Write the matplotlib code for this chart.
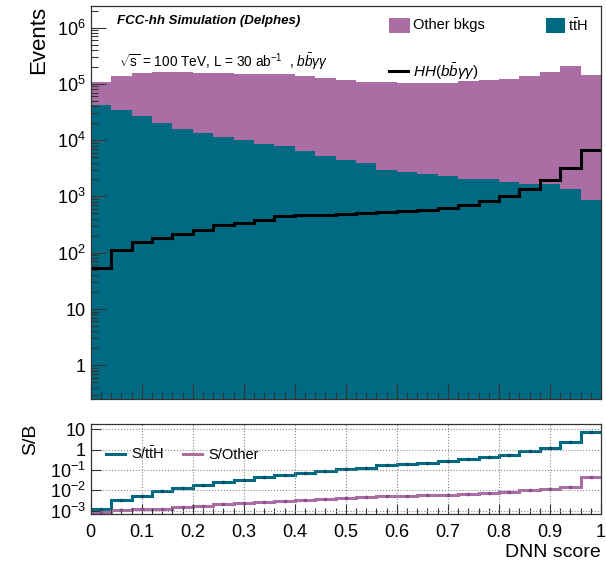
"""
DNN score distribution with S/B ratio panel
"""

import numpy as np
import matplotlib as mpl
mpl.use('Agg')
import matplotlib.pyplot as plt
from matplotlib.patches import Rectangle
from matplotlib.lines import Line2D
from matplotlib.ticker import LogLocator, NullFormatter, MultipleLocator

COLORS = {
    'other': '#AA6EA5',
    'tth':   '#006A82',
    'hh':    '#000000',
}

mpl.rcParams.update({
    'font.family':        ['Liberation Sans', 'DejaVu Sans'],
    'mathtext.fontset':   'custom',
    'mathtext.rm':        'Liberation Sans',
    'mathtext.it':        'Liberation Sans:italic',
    'mathtext.bf':        'Liberation Sans:bold',
    'axes.linewidth':     0.9,
    'axes.edgecolor':     '#333333',
    'xtick.direction':    'in',
    'ytick.direction':    'in',
})

# binning: 25 bins on [0, 1]
bin_edges = np.linspace(0, 1, 26)

# events per bin
tth_events = [4.26e4, 3.5e4, 2.72e4, 2.0e4, 1.58e4, 1.32e4, 1.12e4, 1.0e4, 8.7e3,
              7.8e3, 6.5e3, 5.2e3, 4.4e3, 3.9e3, 2.9e3, 2.7e3, 2.48e3, 2.34e3,
              2.0e3, 2.0e3, 1.82e3, 1.68e3, 1.64e3, 1.38e3, 880]
other_events = [6.44e4, 1.03e5, 1.29e5, 1.43e5, 1.44e5, 1.45e5, 1.45e5, 1.42e5, 1.40e5,
                1.42e5, 1.30e5, 1.23e5, 1.14e5, 1.06e5, 1.04e5, 1.00e5, 1.01e5, 1.03e5,
                1.11e5, 1.14e5, 1.18e5, 1.34e5, 1.58e5, 2.09e5, 1.43e5]
hh_events = [54, 113, 152, 181, 219, 257, 305, 336, 388,
             445, 466, 470, 485, 515, 537, 550, 575, 630,
             705, 830, 1020, 1380, 1950, 3200, 6700]

top_yticks = [1, 10, 1e2, 1e3, 1e4, 1e5, 1e6]
top_yticklabels = ['1', '10', r'$10^{2}$', r'$10^{3}$', r'$10^{4}$', r'$10^{5}$', r'$10^{6}$']
ratio_yticks = [1e-3, 1e-2, 1e-1, 1, 10]
ratio_yticklabels = [r'$10^{-3}$', r'$10^{-2}$', r'$10^{-1}$', '1', '10']
xticks = [0, 0.1, 0.2, 0.3, 0.4, 0.5, 0.6, 0.7, 0.8, 0.9, 1.0]
xticklabels = ['0', '0.1', '0.2', '0.3', '0.4', '0.5', '0.6', '0.7', '0.8', '0.9', '1']


def style_log_axis(ax, major_len, minor_len):
    ax.yaxis.set_minor_locator(LogLocator(base=10, subs=np.arange(2, 10)))
    ax.yaxis.set_minor_formatter(NullFormatter())
    ax.xaxis.set_minor_locator(MultipleLocator(0.02))
    ax.tick_params(which='major', length=major_len, width=0.8, color='#333333')
    ax.tick_params(which='minor', length=minor_len, width=0.8, color='#333333')


def main():
    tth = np.array(tth_events)
    other = np.array(other_events)
    hh = np.array(hh_events)
    centers = 0.5 * (bin_edges[1:] + bin_edges[:-1])

    fig = plt.figure(figsize=(6.06, 5.63), dpi=100)
    ax = fig.add_axes([0.1497, 0.291, 0.8420, 0.698])
    rax = fig.add_axes([0.1497, 0.087, 0.8420, 0.160])

    # ---- main panel ----
    ax.stairs(tth + other, bin_edges, fill=True, baseline=1e-3,
              color=COLORS['other'], lw=0)
    ax.stairs(tth, bin_edges, fill=True, baseline=1e-3,
              color=COLORS['tth'], lw=0)
    ax.stairs(hh, bin_edges, baseline=None, color=COLORS['hh'], lw=2.2)

    ax.set_yscale('log')
    ax.set_xlim(0, 1)
    ax.set_ylim(0.25, 2.4e6)
    ax.set_yticks(top_yticks)
    ax.set_yticklabels(top_yticklabels, fontsize=13)
    ax.set_xticks(xticks)
    ax.set_xticklabels([])
    style_log_axis(ax, 11, 5)
    ax.set_ylabel('Events', fontsize=16, loc='top', labelpad=6)

    ax.text(0.0515, 0.962, 'FCC-hh Simulation (Delphes)', transform=ax.transAxes,
            fontsize=9.5, fontweight='bold', fontstyle='italic', va='center')
    ax.text(0.056, 0.858,
            r'$\sqrt{\mathrm{s}}$ = 100 TeV, L = 30 ab$^{-1}$  , $b\bar{b}\gamma\gamma$',
            transform=ax.transAxes, fontsize=9.8, va='center')

    # legend drawn by hand to mimic the ROOT layout
    ax.add_patch(Rectangle((0.584, 0.931), 0.042, 0.040, transform=ax.transAxes,
                           color=COLORS['other'], lw=0))
    ax.text(0.632, 0.951, 'Other bkgs', transform=ax.transAxes,
            fontsize=10.5, va='center')
    ax.add_patch(Rectangle((0.892, 0.931), 0.038, 0.040, transform=ax.transAxes,
                           color=COLORS['tth'], lw=0))
    ax.text(0.935, 0.951, r'$\mathrm{t\bar{t}H}$', transform=ax.transAxes,
            fontsize=10.5, va='center')
    ax.add_line(Line2D([0.584, 0.622], [0.834, 0.834], transform=ax.transAxes,
                       color=COLORS['hh'], lw=2.2))
    ax.text(0.632, 0.834, r'$HH(b\bar{b}\gamma\gamma)$', transform=ax.transAxes,
            fontsize=11, va='center')

    # ---- ratio panel ----
    s_over_tth = hh / tth
    s_over_other = hh / other
    rax.stairs(s_over_tth, bin_edges, baseline=None, color=COLORS['tth'], lw=2.2,
               label=r'S/$\mathrm{t\bar{t}H}$')
    rax.stairs(s_over_other, bin_edges, baseline=None, color=COLORS['other'], lw=2.2,
               label='S/Other')
    rax.plot(centers, s_over_tth, ls='none', marker='s', ms=2, color='#0B4F60')
    rax.plot(centers, s_over_other, ls='none', marker='s', ms=2, color='#8A4F88')

    rax.set_yscale('log')
    rax.set_xlim(0, 1)
    rax.set_ylim(7e-4, 18)
    rax.set_yticks(ratio_yticks)
    rax.set_yticklabels(ratio_yticklabels, fontsize=13)
    rax.set_xticks(xticks)
    rax.set_xticklabels(xticklabels, fontsize=13)
    style_log_axis(rax, 7, 4)
    rax.yaxis.set_minor_locator(LogLocator(base=10, subs=[]))
    rax.tick_params(axis='x', which='major', pad=7)
    rax.grid(True, which='major', ls=':', color='#888888', lw=0.8)
    rax.set_ylabel('S/B', fontsize=14, loc='top', labelpad=8)
    rax.set_xlabel('DNN score', fontsize=14, loc='right', labelpad=2)
    rax.legend(loc='upper left', bbox_to_anchor=(0.03, 0.76), ncol=2, frameon=False,
               fontsize=10.5, handlelength=1.3, handletextpad=0.4, columnspacing=1.3,
               borderpad=0, borderaxespad=0)

    fig.savefig('out.png', dpi=100)


if __name__ == '__main__':
    main()
